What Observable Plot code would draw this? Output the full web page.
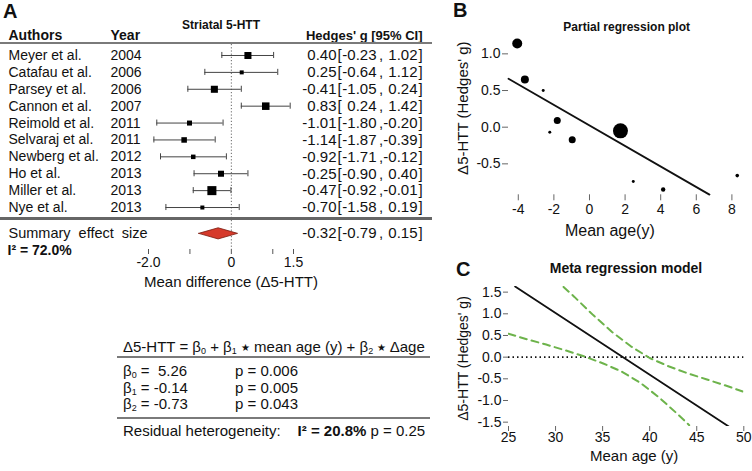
<!DOCTYPE html>
<html><head><meta charset="utf-8">
<script src="https://cdn.jsdelivr.net/npm/d3@7"></script>
<script src="https://cdn.jsdelivr.net/npm/@observablehq/plot@0.6"></script>
<style>
body{margin:0;background:#fff;}
#fig{position:relative;width:752px;height:471px;overflow:hidden;font-family:"Liberation Sans",Arial,Helvetica,sans-serif;color:#111;background:#fff;}
.lbl{position:absolute;font-weight:bold;font-size:20px;line-height:20px;}
.t{position:absolute;white-space:pre;font-size:15px;line-height:16px;}
.hr{position:absolute;}
.sub{font-size:9px;vertical-align:-2px;}
.star{font-size:10px;vertical-align:1px;}
</style></head><body><div id="fig"></div>
<script>
// ---------- Panel A data (forest plot) ----------
const authors = ["Meyer et al.","Catafau et al.","Parsey et al.","Cannon et al.","Reimold et al.","Selvaraj et al.","Newberg et al.","Ho et al.","Miller et al.","Nye et al."];
const years = [2004,2006,2006,2007,2011,2011,2012,2013,2013,2013];
const hedgesG = [0.40,0.25,-0.41,0.83,-1.01,-1.14,-0.92,-0.25,-0.47,-0.70];
const ciLower = [-0.23,-0.64,-1.05,0.24,-1.80,-1.87,-1.71,-0.90,-0.92,-1.58];
const ciUpper = [1.02,1.12,0.24,1.42,-0.20,-0.39,-0.12,0.40,-0.01,0.19];
const forestWeight = [13.0,4.2,13.0,14.9,6.6,8.0,5.3,9.5,21.4,4.2];
const summaryEffect = [-0.32,-0.79,0.15]; // estimate, lower, upper
const forestI2 = "72.0%";
const forestTicks = [-2,-1,0,1,1.5];
const forestTickLabels = ["-2.0","","0","","1.5"];

// ---------- Meta-regression table ----------
const betaValues = [5.26,-0.14,-0.73];
const betaP = ["0.006","0.005","0.043"];
const residualI2 = "20.8%";
const residualP = "0.25";

// ---------- Panel B data (partial regression) ----------
const partialAge = [-4.06,-3.63,-2.60,-1.81,-2.23,-0.97,1.74,2.46,4.14,8.30];
const partialG = [1.14,0.65,0.50,0.09,-0.07,-0.17,-0.05,-0.74,-0.85,-0.66];
const partialWeight = [18.3,11.7,1.6,9.0,1.6,9.0,41.2,1.6,3.5,2.4];
const partialLineX = [-4.55,6.74];
const partialLineY = [0.66,-0.92];
const partialXTicks = [-4,-2,0,2,4,6,8];
const partialYTicks = [-0.5,0,0.5,1.0];

// ---------- Panel C data (meta regression model) ----------
const metaLineX = [25.7,48.4];
const metaLineY = [1.63,-1.60];
const upperX = [30.85,32,34,36,38,40,42,44,46,48,50];
const upperY = [1.62,1.39,0.97,0.58,0.25,-0.02,-0.21,-0.37,-0.51,-0.65,-0.80];
const lowerX = [25,27,29,31,33,35,37,39,41,43,44.2];
const lowerY = [0.54,0.41,0.29,0.16,0.02,-0.14,-0.33,-0.59,-0.93,-1.32,-1.57];
const metaXTicks = [25,30,35,40,45,50];
const metaYTicks = [-1.5,-1.0,-0.5,0,0.5,1.0,1.5];

// ---------- build ----------
const fig = document.getElementById("fig");
const FONT = '"Liberation Sans", Arial, Helvetica, sans-serif';
const baseStyle = {fontFamily: FONT, fontSize: "14px", color: "#111", background: "transparent", overflow: "visible"};
function place(svg, left, top){ svg.style.position="absolute"; svg.style.left=left+"px"; svg.style.top=top+"px"; fig.appendChild(svg); }
function html(cls, left, top, inner, extra=""){ const d=document.createElement("div"); d.className=cls; d.style.cssText=`left:${left}px;top:${top}px;${extra}`; d.innerHTML=inner; fig.appendChild(d); return d; }

// Panel A
const L = {headerRow:-0.18, summaryRow:11.53, i2Row:12.55, capHalf:0.18, diamondHalf:0.33, dotTop:0.35, axisRow:12.49};
const studies = authors.map((a,i)=>({author:a, year:years[i], g:hedgesG[i], lo:ciLower[i], hi:ciUpper[i], w:forestWeight[i], row:i+1}));
const ciRows = [...studies, {g:summaryEffect[0], lo:summaryEffect[1], hi:summaryEffect[2], row:L.summaryRow}];
const fmt = v => v.toFixed(2);
const diamond = [
  {x:summaryEffect[1], y:L.summaryRow},
  {x:summaryEffect[0], y:L.summaryRow - L.diamondHalf},
  {x:summaryEffect[2], y:L.summaryRow},
  {x:summaryEffect[0], y:L.summaryRow + L.diamondHalf},
  {x:summaryEffect[1], y:L.summaryRow}
];
const tickLabelMap = new Map(forestTicks.map((t,i)=>[t, forestTickLabels[i]]));
const CI = {fontSize: 15};

const plotA = Plot.plot({
  width: 452, height: 300, marginLeft: 148, marginRight: 159, marginTop: 0, marginBottom: 51,
  style: baseStyle,
  x: {domain: [-2, 1.5]},
  y: {domain: [0, 12], range: [38.1, 240.8], axis: null},
  r: {domain: [0, d3.max(forestWeight)], range: [0, 5.1]},
  marks: [
    Plot.ruleX([0], {y1: [L.dotTop], y2: [L.axisRow], stroke: "#666", strokeDasharray: "1.2,2"}),
    Plot.ruleY(studies, {y: "row", x1: "lo", x2: "hi", stroke: "#444"}),
    Plot.ruleX(studies, {x: "lo", y1: d => d.row - L.capHalf, y2: d => d.row + L.capHalf, stroke: "#444"}),
    Plot.ruleX(studies, {x: "hi", y1: d => d.row - L.capHalf, y2: d => d.row + L.capHalf, stroke: "#444"}),
    Plot.dot(studies, {x: "g", y: "row", r: "w", symbol: "square", fill: "#000"}),
    Plot.line(diamond, {x: "x", y: "y", fill: "#d63a2b", stroke: "#7a1c10", strokeWidth: 0.8}),
    Plot.axisX({ticks: forestTicks, tickFormat: d => tickLabelMap.get(d), tickSize: 5, tickPadding: 3, line: true, stroke: "#555", fill: "#111", label: null}),
    Plot.text(["Mean difference (Δ5-HTT)"], {text: d => d, frameAnchor: "bottom", dx: 10, dy: 33, fontSize: 15, lineAnchor: "middle"}),
    // header
    Plot.text(["Striatal 5-HTT"], {text: d => d, frameAnchor: "top", dy: 25, fontSize: 12, fontWeight: "bold", lineAnchor: "middle"}),
    Plot.text(["Authors"], {text: d => d, y: [L.headerRow], frameAnchor: "left", dx: -140, textAnchor: "start", fontSize: 14, fontWeight: "bold"}),
    Plot.text(["Year"], {text: d => d, y: [L.headerRow], frameAnchor: "left", dx: -38, textAnchor: "start", fontSize: 14, fontWeight: "bold"}),
    Plot.text(["Hedges' g [95% CI]"], {text: d => d, y: [L.headerRow], frameAnchor: "right", dx: 129, textAnchor: "end", fontSize: 13, fontWeight: "bold"}),
    // rows
    Plot.text(studies, {text: "author", y: "row", frameAnchor: "left", dx: -140, textAnchor: "start", fontSize: 14}),
    Plot.text(studies, {text: d => String(d.year), y: "row", frameAnchor: "left", dx: -38, textAnchor: "start", fontSize: 14}),
    Plot.text(ciRows, {text: d => fmt(d.g), y: "row", frameAnchor: "right", dx: 43, textAnchor: "end", ...CI}),
    Plot.text(ciRows, {text: () => "[", y: "row", frameAnchor: "right", dx: 44, textAnchor: "start", ...CI}),
    Plot.text(ciRows, {text: d => fmt(d.lo), y: "row", frameAnchor: "right", dx: 83, textAnchor: "end", ...CI}),
    Plot.text(ciRows, {text: () => ",", y: "row", frameAnchor: "right", dx: 85.5, textAnchor: "start", ...CI}),
    Plot.text(ciRows, {text: d => fmt(d.hi), y: "row", frameAnchor: "right", dx: 124, textAnchor: "end", ...CI}),
    Plot.text(ciRows, {text: () => "]", y: "row", frameAnchor: "right", dx: 125, textAnchor: "start", ...CI}),
    Plot.text(["Summary\u00a0 effect\u00a0 size"], {text: d => d, y: [L.summaryRow], frameAnchor: "left", dx: -140, textAnchor: "start", fontSize: 14.5}),
    Plot.text(["I² = " + forestI2], {text: d => d, y: [L.i2Row], frameAnchor: "left", dx: -141, textAnchor: "start", fontSize: 14, fontWeight: "bold"})
  ]
});
place(plotA, 0, 0);

// table rules for panel A
html("hr", 0, 42.3, "", "width:432px;height:2px;background:#7a7a7a;");
html("hr", 0, 217, "", "width:432px;height:2.5px;background:#666;");

// Meta-regression equation block
const sub = n => `<span class="sub">${n}</span>`;
const star = `<span class="star">★</span>`;
html("t", 123, 339, `Δ5-HTT = β${sub(0)} + β${sub(1)} ${star} mean age (y) + β${sub(2)} ${star} Δage`);
html("hr", 117, 356, "", "width:313px;height:2px;background:#7a7a7a;");
const rowTops = [363, 380, 396];
betaValues.forEach((v,i)=>{
  const vs = v < 0 ? v.toFixed(2) : " " + v.toFixed(2);
  html("t", 123, rowTops[i], `β${sub(i)} = ${vs}`);
  html("t", 235, rowTops[i], `p = ${betaP[i]}`);
});
html("hr", 117, 417, "", "width:313px;height:2px;background:#7a7a7a;");
html("t", 123, 423, `Residual heterogeneity:<span style="margin-left:17px;font-weight:bold">I² = ${residualI2}</span> p = ${residualP}`);

// Panel B
const partial = partialAge.map((a,i)=>({age:a, g:partialG[i], w:partialWeight[i]}));
const partialLine = partialLineX.map((x,i)=>({x, y:partialLineY[i]}));
const plotB = Plot.plot({
  width: 302, height: 240, marginLeft: 58, marginRight: 5.3, marginTop: 37, marginBottom: 45.7,
  style: baseStyle,
  x: {domain: [-4.55, 8.86]},
  y: {domain: [-0.922, 1.223]},
  r: {domain: [0, d3.max(partialWeight)], range: [0, 7.5]},
  marks: [
    Plot.axisX({ticks: partialXTicks, tickFormat: d => String(d), tickSize: 6, tickPadding: 3, line: true, stroke: "#666", fill: "#111", label: null}),
    Plot.axisY({ticks: partialYTicks, tickFormat: d => d.toFixed(1), tickSize: 6, tickPadding: 2, line: true, stroke: "#666", fill: "#111", label: null}),
    Plot.line(partialLine, {x: "x", y: "y", stroke: "#111", strokeWidth: 1.8}),
    Plot.dot(partial, {x: "age", y: "g", r: "w", fill: "#000"}),
    Plot.text(["Mean age(y)"], {text: d => d, frameAnchor: "bottom", dx: -18, dy: 36, fontSize: 16, lineAnchor: "middle"}),
    Plot.text(["Δ5-HTT (Hedges' g)"], {text: d => d, frameAnchor: "left", dx: -45, dy: -8, rotate: -90, fontSize: 15, textAnchor: "middle", lineAnchor: "middle"})
  ]
});
place(plotB, 450, 0);

// Panel C
const metaLine = metaLineX.map((x,i)=>({x, y:metaLineY[i]}));
const upperCI = upperX.map((x,i)=>({x, y:upperY[i]}));
const lowerCI = lowerX.map((x,i)=>({x, y:lowerY[i]}));
const green = "#6db34b";
const plotC = Plot.plot({
  width: 302, height: 231, marginLeft: 58, marginRight: 8.7, marginTop: 46, marginBottom: 45,
  style: baseStyle,
  x: {domain: [25, 50]},
  y: {domain: [-1.60, 1.63]},
  marks: [
    Plot.axisX({ticks: metaXTicks, tickFormat: d => String(d), tickSize: 5, tickPadding: 1, line: true, stroke: "#666", fill: "#111", label: null}),
    Plot.axisY({ticks: metaYTicks, tickFormat: d => d.toFixed(1), tickSize: 5, tickPadding: 2, line: true, stroke: "#666", fill: "#111", label: null}),
    Plot.ruleY([0], {stroke: "#111", strokeDasharray: "1.5,3", strokeWidth: 1.6}),
    Plot.line(upperCI, {x: "x", y: "y", stroke: green, strokeDasharray: "7,5", strokeWidth: 2, clip: true}),
    Plot.line(lowerCI, {x: "x", y: "y", stroke: green, strokeDasharray: "7,5", strokeWidth: 2, clip: true}),
    Plot.line(metaLine, {x: "x", y: "y", stroke: "#111", strokeWidth: 1.8, clip: true}),
    Plot.text(["Mean age (y)"], {text: d => d, frameAnchor: "bottom", dx: 8, dy: 30, fontSize: 15, lineAnchor: "middle"}),
    Plot.text(["Δ5-HTT (Hedges' g)"], {text: d => d, frameAnchor: "left", dx: -45, dy: 2, rotate: -90, fontSize: 14, textAnchor: "middle", lineAnchor: "middle"})
  ]
});
place(plotC, 450, 240);

// Panel letters and titles
html("lbl", 3, 1, "A");
html("lbl", 453, 0, "B");
html("lbl", 456, 259, "C");
html("t", 526.7, 20, "Partial regression plot", "width:200px;text-align:center;font-size:12px;line-height:14px;font-weight:bold;");
html("t", 526, 260, "Meta regression model", "width:200px;text-align:center;font-size:14px;line-height:16px;font-weight:bold;");
</script></body></html>
